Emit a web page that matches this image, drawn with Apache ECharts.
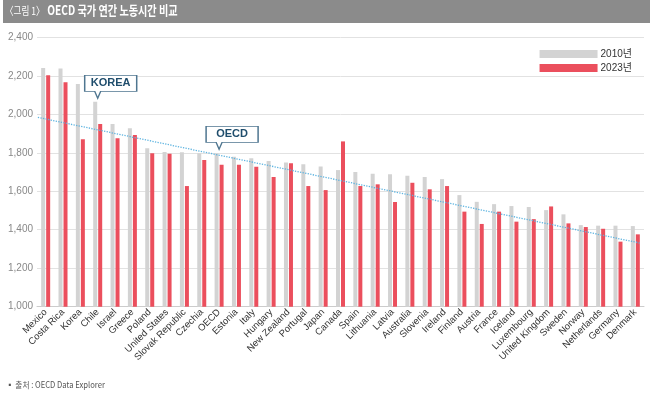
<!DOCTYPE html>
<html><head><meta charset="utf-8">
<script src="https://cdn.jsdelivr.net/npm/echarts@6/dist/echarts.min.js"></script>
<style>html,body{margin:0;padding:0;background:#fff}#c{width:650px;height:399px}</style>
</head><body><div id="c"></div>
<script>
const categories = ['Mexico','Costa Rica','Korea','Chile','Israel','Greece','Poland','United States','Slovak Republic','Czechia','OECD','Estonia','Italy','Hungary','New Zealand','Portugal','Japan','Canada','Spain','Lithuania','Latvia','Australia','Slovenia','Ireland','Finland','Austria','France','Iceland','Luxembourg','United Kingdom','Sweden','Norway','Netherlands','Germany','Denmark'];
const hours2010 = [2240,2238,2157,2065,1949,1927,1824,1804,1802,1797,1797,1779,1771,1757,1750,1740,1729,1710,1700,1691,1688,1681,1674,1663,1580,1545,1533,1523,1518,1502,1480,1424,1421,1421,1419];
const hours2023 = [2203,2167,1870,1949,1875,1892,1797,1795,1627,1762,1738,1738,1727,1674,1745,1627,1606,1859,1627,1636,1544,1644,1610,1627,1494,1430,1494,1442,1455,1521,1433,1414,1405,1338,1376];
const trendX = [0.05, 34.75];
const trendY = [1984, 1331];
const yTicks = [1000, 2400, 200];
const callouts = [['Chile', 2083, 'KOREA'], ['OECD', 1818, 'OECD']];

const chart = echarts.init(document.getElementById('c'), null, {renderer: 'canvas'});
const calloutPath = 'path://M0,0 L52,0 L52,16 L16,16 L13,23 L10,16 L0,16 Z';
chart.setOption({
  animation: false,
  grid: {left: 37, right: 6, top: 37.3, bottom: 92.3, containLabel: false},
  legend: {
    data: ['2010년', '2023년'], orient: 'vertical', right: 13, top: 43,
    itemWidth: 58, itemHeight: 8, itemGap: 2, icon: 'rect',
    textStyle: {fontSize: 10, color: '#333', fontFamily: 'Liberation Sans, Noto Sans CJK KR', lineHeight: 12, padding: [0,0,0,-2]}
  },
  xAxis: [{
    type: 'category', data: categories,
    axisLine: {lineStyle: {color: '#ccc'}}, axisTick: {show: false},
    axisLabel: {interval: 0, rotate: 45, fontSize: 9.5, color: '#333', margin: 4, fontFamily: 'Liberation Sans'}
  }, {
    type: 'value', min: 0, max: 35, show: false
  }],
  yAxis: {
    type: 'value', min: yTicks[0], max: yTicks[1], interval: yTicks[2],
    axisLine: {show: false}, axisTick: {show: false},
    axisLabel: {fontSize: 10, color: '#888', margin: 4, fontFamily: 'Liberation Sans',
      formatter: v => v.toLocaleString('en-US')},
    splitLine: {lineStyle: {color: '#e2e2e2', width: 1}}
  },
  graphic: [
    {type: 'rect', left: 3, top: 0, shape: {width: 647, height: 23}, style: {fill: '#8b8b8b'}},
    {type: 'text', x: 5, y: 4, scaleX: 0.78, style: {
      text: '{a|〈그림 1〉} {b|OECD 국가 연간 노동시간 비교}',
      rich: {
        a: {fontSize: 11, fill: '#fff', fontFamily: 'Noto Sans CJK KR'},
        b: {fontSize: 13, fill: '#fff', fontWeight: 'bold', fontFamily: 'Noto Sans CJK KR'}
      }}},
    {type: 'text', x: 6, y: 381, scaleX: 0.9, style: {text: '▪ 출처 : OECD Data Explorer', fontSize: 8.5, fill: '#555', fontFamily: 'Noto Sans CJK KR'}}
  ],
  series: [
    {name: '2010년', type: 'bar', data: hours2010, barWidth: 4, barGap: '25%', itemStyle: {color: '#d3d3d3'}},
    {name: '2023년', type: 'bar', data: hours2023, barWidth: 4, itemStyle: {color: '#eb4f5d'}},
    {name: 'trend', type: 'line', xAxisIndex: 1, data: trendX.map((x, i) => [x, trendY[i]]),
      symbol: 'none', z: 5, lineStyle: {color: '#5fb4e0', width: 1.3, type: 'dotted'}},
    {name: 'callout', type: 'scatter', z: 6, data: callouts.map(c => ({value: [c[0], c[1]], name: c[2]})),
      symbol: calloutPath, symbolSize: [52, 23], symbolOffset: [13, -11.5],
      itemStyle: {color: '#fff', borderColor: '#4f7690', borderWidth: 1, opacity: 1},
      label: {show: true, position: 'inside', offset: [0, -3.5], formatter: p => p.name,
        color: '#1f4d6c', fontSize: 11, fontWeight: 'bold', fontFamily: 'Liberation Sans'},
      emphasis: {disabled: true}}
  ]
});
</script></body></html>
